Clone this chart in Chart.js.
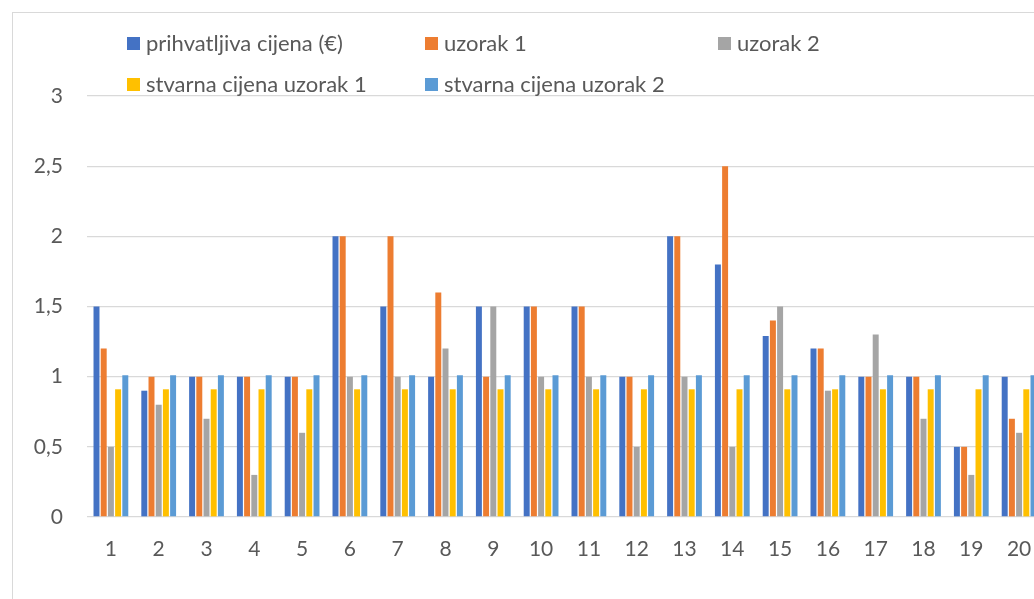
<!DOCTYPE html>
<html>
<head>
<meta charset="utf-8">
<script src="https://cdn.jsdelivr.net/npm/chart.js@4/dist/chart.umd.min.js"></script>
<style>
  html, body { margin: 0; padding: 0; background: #fff; overflow: hidden; width: 1034px; height: 599px; }
  #frame { position: absolute; left: 12px; top: 12px; width: 1100px; height: 700px;
           border-left: 1.5px solid #d9d9d9; border-top: 1.5px solid #d9d9d9; }
  #wrap { position: absolute; left: 0; top: 0; width: 1080px; height: 599px; }
  .box { position: absolute; width: 13px; height: 13px; }
  .t { position: absolute; font-family: Lato, "Open Sans", sans-serif; font-size: 22px; line-height: 22px;
       color: #595959; white-space: nowrap; }
</style>
</head>
<body>
<div id="frame"></div>
<div id="wrap"><canvas id="c" width="1080" height="599"></canvas></div>
<div id="legend"></div>
<script>
const categories = ["1","2","3","4","5","6","7","8","9","10","11","12","13","14","15","16","17","18","19","20"];
const seriesNames = ["prihvatljiva cijena (€)", "uzorak 1", "uzorak 2", "stvarna cijena uzorak 1", "stvarna cijena uzorak 2"];
const prihvatljivaCijena = [1.5, 0.9, 1, 1, 1, 2, 1.5, 1, 1.5, 1.5, 1.5, 1, 2, 1.8, 1.29, 1.2, 1, 1, 0.5, 1];
const uzorak1 = [1.2, 1, 1, 1, 1, 2, 2, 1.6, 1, 1.5, 1.5, 1, 2, 2.5, 1.4, 1.2, 1, 1, 0.5, 0.7];
const uzorak2 = [0.5, 0.8, 0.7, 0.3, 0.6, 1, 1, 1.2, 1.5, 1, 1, 0.5, 1, 0.5, 1.5, 0.9, 1.3, 0.7, 0.3, 0.6];
const stvarnaUzorak1 = [0.91, 0.91, 0.91, 0.91, 0.91, 0.91, 0.91, 0.91, 0.91, 0.91, 0.91, 0.91, 0.91, 0.91, 0.91, 0.91, 0.91, 0.91, 0.91, 0.91];
const stvarnaUzorak2 = [1.01, 1.01, 1.01, 1.01, 1.01, 1.01, 1.01, 1.01, 1.01, 1.01, 1.01, 1.01, 1.01, 1.01, 1.01, 1.01, 1.01, 1.01, 1.01, 1.01];
const yTicks = [0, 0.5, 1, 1.5, 2, 2.5, 3];

const colors = ["#4472C4", "#ED7D31", "#A5A5A5", "#FFC000", "#5B9BD5"];
const values = [prihvatljivaCijena, uzorak1, uzorak2, stvarnaUzorak1, stvarnaUzorak2];

const datasets = values.map((v, i) => ({
  label: seriesNames[i],
  data: v,
  backgroundColor: colors[i],
  borderWidth: 0,
  categoryPercentage: 0.753,
  barPercentage: 0.83
}));

const FONT = { family: "Lato, 'Open Sans', sans-serif", size: 21 };

new Chart(document.getElementById('c'), {
  type: 'bar',
  data: { labels: categories, datasets },
  options: {
    responsive: false,
    animation: false,
    devicePixelRatio: 1,
    layout: { padding: { left: 0, top: 96, right: 37, bottom: 42 } },
    plugins: { legend: { display: false }, tooltip: { enabled: false } },
    scales: {
      x: {
        grid: { display: false },
        border: { display: false },
        ticks: { color: '#595959', font: FONT, padding: 12, maxRotation: 0, autoSkip: false },
        afterFit: (s) => { s.height = 40; }
      },
      y: {
        min: 0, max: 3,
        afterBuildTicks: (s) => { s.ticks = yTicks.map(v => ({ value: v })); },
        grid: { color: '#d9d9d9', lineWidth: 1.3, drawTicks: false },
        border: { display: false },
        ticks: { color: '#595959', font: FONT, padding: 24,
                 callback: (v) => String(v).replace('.', ',') },
        afterFit: (s) => { s.width = 87; }
      }
    }
  }
});

// legend built from the series names/colours: [boxLeft, boxTop, textLeft, baseline]
const legendPos = [[127, 37, 146, 51], [425, 37, 444, 51], [718, 37, 737, 51], [127, 78, 146, 92], [425, 78, 444, 92]];
const lg = document.getElementById('legend');
seriesNames.forEach((n, i) => {
  const b = document.createElement('div');
  b.className = 'box';
  b.style.left = legendPos[i][0] + 'px';
  b.style.top = legendPos[i][1] + 'px';
  b.style.background = colors[i];
  lg.appendChild(b);
  const t = document.createElement('div');
  t.className = 't';
  t.style.left = legendPos[i][2] + 'px';
  t.style.top = (legendPos[i][3] - 19.5) + 'px';
  t.textContent = n;
  lg.appendChild(t);
});
</script>
</body>
</html>
